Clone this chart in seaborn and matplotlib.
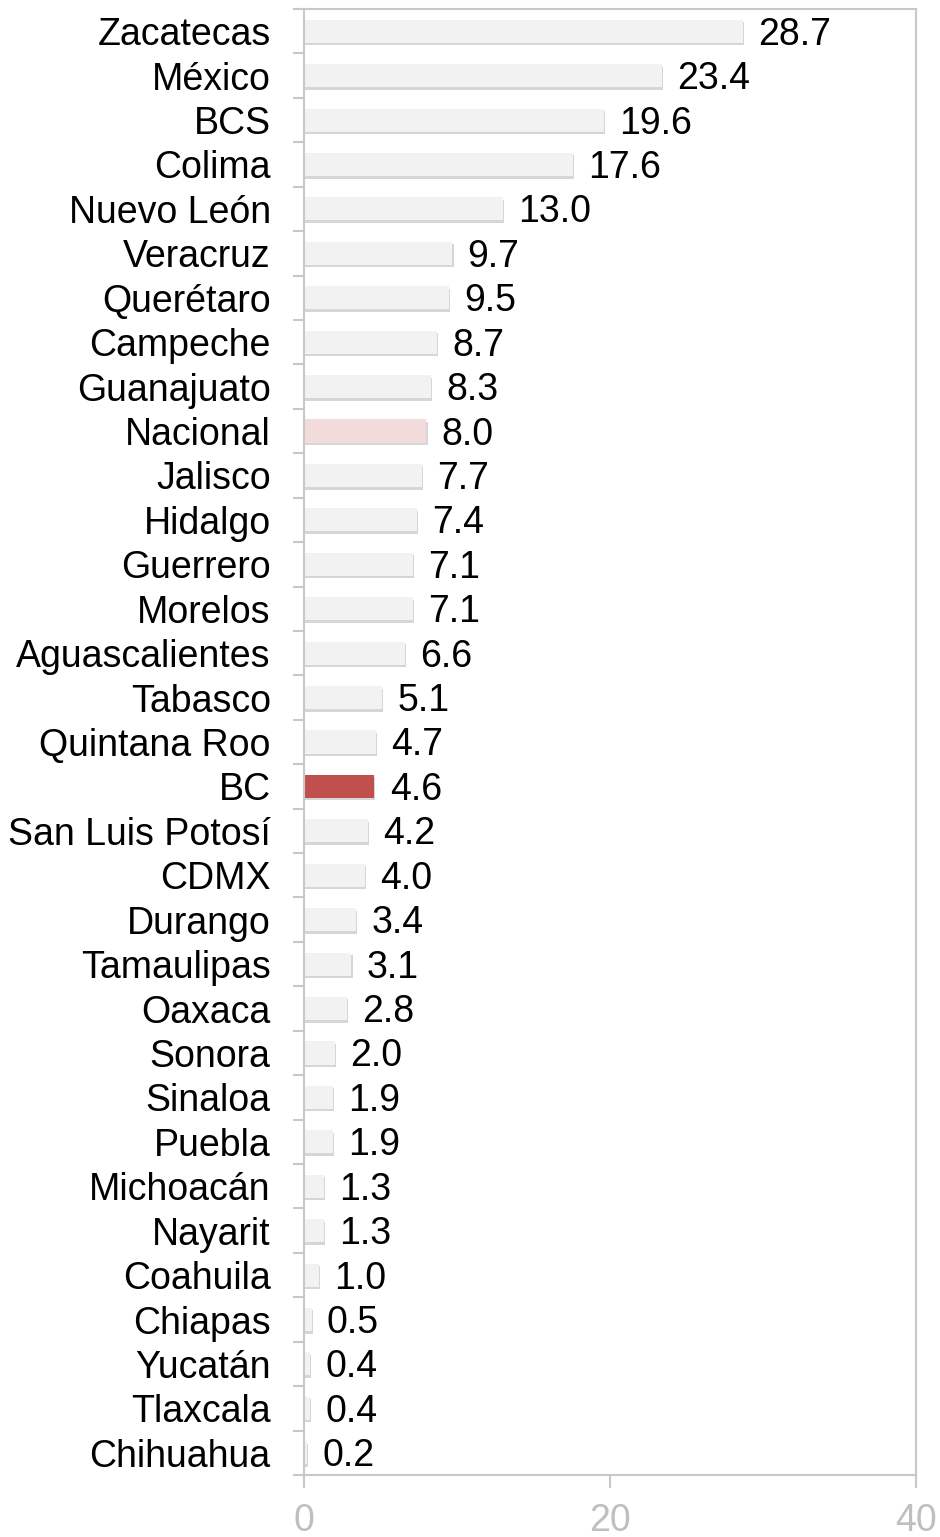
import numpy as np
import pandas as pd
import matplotlib
matplotlib.use("Agg")
import matplotlib.pyplot as plt
import matplotlib.patheffects as pe
import seaborn as sns

# ========================= Data =========================
states = ["Zacatecas", "México", "BCS", "Colima", "Nuevo León", "Veracruz", "Querétaro",
          "Campeche", "Guanajuato", "Nacional", "Jalisco", "Hidalgo", "Guerrero", "Morelos",
          "Aguascalientes", "Tabasco", "Quintana Roo", "BC", "San Luis Potosí", "CDMX",
          "Durango", "Tamaulipas", "Oaxaca", "Sonora", "Sinaloa", "Puebla", "Michoacán",
          "Nayarit", "Coahuila", "Chiapas", "Yucatán", "Tlaxcala", "Chihuahua"]
values = [28.7, 23.4, 19.6, 17.6, 13.0, 9.7, 9.5, 8.7, 8.3, 8.0, 7.7, 7.4, 7.1, 7.1,
          6.6, 5.1, 4.7, 4.6, 4.2, 4.0, 3.4, 3.1, 2.8, 2.0, 1.9, 1.9, 1.3, 1.3, 1.0,
          0.5, 0.4, 0.4, 0.2]
x_ticks = [0, 20, 40]

# ========================= Colors =========================
BASE = "#f2f2f2"
NACIONAL = "#f2dcdb"
BC = "#c0504d"
FRAME = "#c8c8c8"

df = pd.DataFrame({"state": states, "value": values})
colors = {s: BASE for s in states}
colors["Nacional"] = NACIONAL
colors["BC"] = BC

sns.set_theme(style="white")
plt.rcParams["font.family"] = ["Liberation Sans", "DejaVu Sans"]

fig = plt.figure(figsize=(9.4, 15.37), dpi=100)
ax = fig.add_axes([304 / 940, 1 - 1475 / 1537, 612 / 940, 1466 / 1537])

sns.barplot(data=df, y="state", x="value", hue="state", palette=colors,
            order=states, legend=False, width=0.52, ax=ax, saturation=1)

# soft shadow under the bars
for bar in ax.patches:
    bar.set_edgecolor("none")
    bar.set_path_effects([pe.SimplePatchShadow(offset=(0.8, -1.8), shadow_rgbFace="#9a9a9a", alpha=0.4),
                          pe.Normal()])

# value labels
for i, v in enumerate(values):
    ax.annotate(f"{v:.1f}", xy=(v, i), xytext=(11, -2.5), textcoords="offset points",
                va="center", ha="left", fontsize=27, color="black")

ax.set_xlim(0, 40)
ax.set_ylim(len(states) - 0.5, -0.5)
ax.set_xticks(x_ticks)
ax.set_xticklabels([str(t) for t in x_ticks])
ax.set_xlabel("")
ax.set_ylabel("")

# category labels at centers, tick marks at boundaries
ax.set_yticks(np.arange(len(states)))
ax.set_yticklabels(states)
ax.set_yticks(np.arange(len(states) + 1) - 0.5, minor=True)
ax.tick_params(axis="y", which="major", length=0, pad=24, labelsize=27, labelcolor="black")
ax.tick_params(axis="y", which="minor", length=8, width=1.5, color=FRAME, left=True)
ax.tick_params(axis="x", which="major", length=9, width=1.5, color=FRAME, bottom=True,
               labelsize=27, labelcolor="#bfbfbf", pad=11)

for side in ax.spines.values():
    side.set_color(FRAME)
    side.set_linewidth(1.5)
    side.set_visible(True)

fig.savefig("out.png", dpi=100)
